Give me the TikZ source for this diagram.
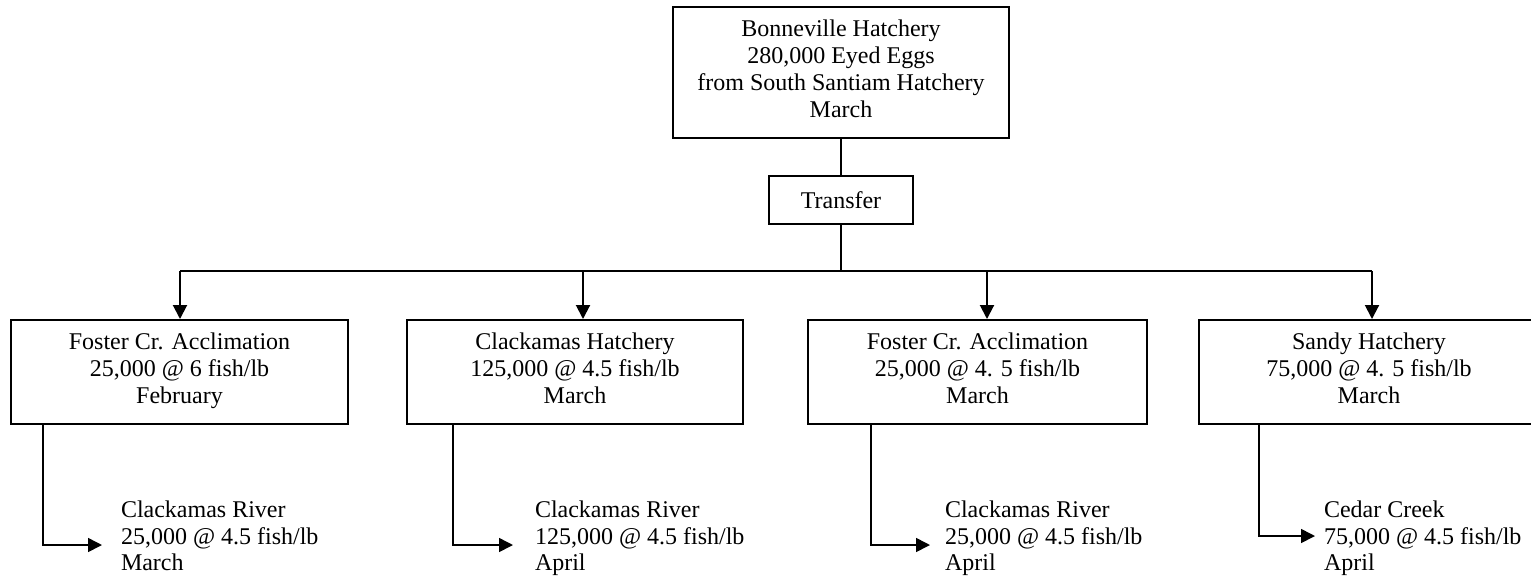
\documentclass[tikz,border=0pt]{standalone}
\usepackage{fontspec}
\setmainfont{Liberation Serif}
\usetikzlibrary{arrows.meta}
\begin{document}
\begin{tikzpicture}[x=0.5pt,y=-0.5pt,line width=1pt,
  box/.style={draw,line width=1pt,align=center,inner sep=0pt,font=\fontsize{12}{13.5}\selectfont,
    execute at begin node=\rule{0pt}{12.5pt},execute at end node=\strut},
  lbl/.style={align=left,inner sep=0pt,anchor=west,font=\fontsize{12}{13.25}\selectfont,
    execute at begin node=\strut,execute at end node=\strut},
  arr/.style={-{Triangle[length=7pt,width=7pt]}},
  thin arr/.style={line width=0.8pt,-{Triangle[length=7pt,width=7pt]}}]
\useasboundingbox (0,0) rectangle (1531,579);
% boxes
\node[box,minimum width=168pt,minimum height=65.5pt] (top) at (841,72.5)
  {Bonneville Hatchery\\280,000 Eyed Eggs\\from South Santiam Hatchery\\March};
\node[box,minimum width=72pt,minimum height=24pt] (tr) at (841,200) {Transfer};
\node[box,minimum width=168.5pt,minimum height=52pt] (b1) at (179.5,372)
  {Foster Cr. Acclimation\\25,000 @ 6 fish/lb\\February};
\node[box,minimum width=168pt,minimum height=52pt] (b2) at (575,372)
  {Clackamas Hatchery\\125,000 @ 4.5 fish/lb\\March};
\node[box,minimum width=169.5pt,minimum height=52pt] (b3) at (977.5,372)
  {Foster Cr. Acclimation\\25,000 @ 4. 5 fish/lb\\March};
\node[box,minimum width=170pt,minimum height=52pt] (b4) at (1369,372)
  {Sandy Hatchery\\75,000 @ 4. 5 fish/lb\\March};
% release labels
\node[lbl] (r1) at (120,540) {Clackamas River\\25,000 @ 4.5 fish/lb\\March};
\node[lbl] (r2) at (534,540) {Clackamas River\\125,000 @ 4.5 fish/lb\\April};
\node[lbl] (r3) at (944,540) {Clackamas River\\25,000 @ 4.5 fish/lb\\April};
\node[lbl] (r4) at (1323,540) {Cedar Creek\\75,000 @ 4.5 fish/lb\\April};
% bus coordinates
\coordinate (bM) at (841,271);
\coordinate (j1) at (180,271);
\coordinate (j2) at (583,271);
\coordinate (j3) at (987,271);
\coordinate (j4) at (1372,271);
\draw (top) -- (tr);
\draw (tr) -- (bM);
\draw (j1) -- (j4);
\draw[arr] (j1) -- (j1 |- b1.north);
\draw[arr] (j2) -- (j2 |- b2.north);
\draw[arr] (j3) -- (j3 |- b3.north);
\draw[arr] (j4) -- (j4 |- b4.north);
% release connectors
\coordinate (s1) at (43,424);   \coordinate (t1) at (102,545);
\coordinate (s2) at (453,424);  \coordinate (t2) at (513,545);
\coordinate (s3) at (871,424);  \coordinate (t3) at (930,545);
\coordinate (s4) at (1259,424); \coordinate (t4) at (1315,536);
\draw[thin arr] (s1) |- (t1);
\draw[thin arr] (s2) |- (t2);
\draw[thin arr] (s3) |- (t3);
\draw[thin arr] (s4) |- (t4);
\end{tikzpicture}
\end{document}
